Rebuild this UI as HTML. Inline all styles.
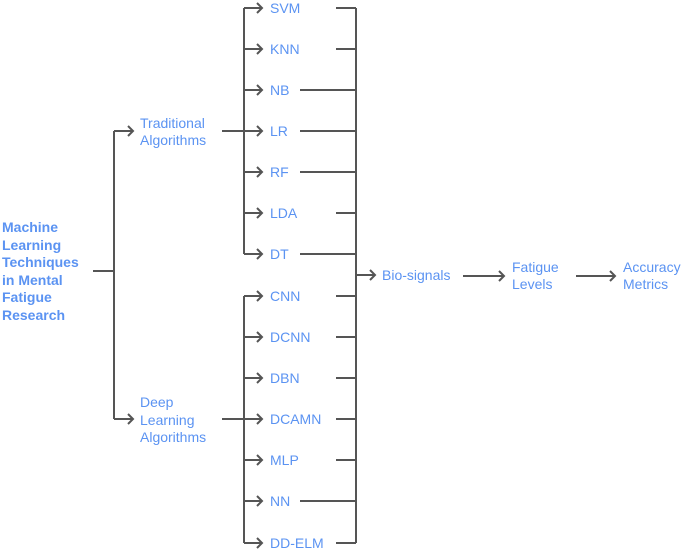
<!DOCTYPE html>
<html><head><meta charset="utf-8"><style>
html,body{margin:0;padding:0;background:#fff;}
svg text{font-family:"Liberation Sans",sans-serif;font-size:14px;fill:#5b93f2;}
</style></head><body>
<svg width="685" height="551" viewBox="0 0 685 551" xmlns="http://www.w3.org/2000/svg">
<g stroke="#555" stroke-width="2" fill="none">
<!-- root -->
<path d="M93 271H114M114 131V419M114 131H133M114 419H133"/>
<path d="M128 126L133 131L128 136M128 414L133 419L128 424"/>
<!-- trad -->
<path d="M222 131H244M244 8V254M222 419H244M244 296V543"/>
<!-- item arrows -->
<path d="M244 8H262M244 49H262M244 90H262M244 131H262M244 172H262M244 213H262M244 254H262M244 296H262M244 337H262M244 378H262M244 419H262M244 460H262M244 501H262M244 543H262"/>
<path d="M257 3L262 8L257 13M257 44L262 49L257 54M257 85L262 90L257 95M257 126L262 131L257 136M257 167L262 172L257 177M257 208L262 213L257 218M257 249L262 254L257 259M257 291L262 296L257 301M257 332L262 337L257 342M257 373L262 378L257 383M257 414L262 419L257 424M257 455L262 460L257 465M257 496L262 501L257 506M257 538L262 543L257 548"/>
<!-- right lines -->
<path d="M336 8H356M336 49H356M300 90H356M300 131H356M300 172H356M336 213H356M300 254H356M336 296H356M336 337H356M336 378H356M336 419H356M336 460H356M300 501H356M336 543H356"/>
<path d="M356 8V543M356 275H375M370 270L375 275L370 280"/>
<path d="M463 276H504M499 271L504 276L499 281M576 276H615M610 271L615 276L610 281"/>
</g>
<text x="2" y="232" font-weight="bold">Machine</text>
<text x="2" y="250" font-weight="bold">Learning</text>
<text x="2" y="267" font-weight="bold">Techniques</text>
<text x="2" y="285" font-weight="bold">in Mental</text>
<text x="2" y="302" font-weight="bold">Fatigue</text>
<text x="2" y="320" font-weight="bold">Research</text>
<text x="140" y="128">Traditional</text>
<text x="140" y="145">Algorithms</text>
<text x="140" y="407">Deep</text>
<text x="140" y="425">Learning</text>
<text x="140" y="442">Algorithms</text>
<text x="270" y="13">SVM</text>
<text x="270" y="54">KNN</text>
<text x="270" y="95">NB</text>
<text x="270" y="136">LR</text>
<text x="270" y="177">RF</text>
<text x="270" y="218">LDA</text>
<text x="270" y="259">DT</text>
<text x="270" y="301">CNN</text>
<text x="270" y="342">DCNN</text>
<text x="270" y="383">DBN</text>
<text x="270" y="424">DCAMN</text>
<text x="270" y="465">MLP</text>
<text x="270" y="506">NN</text>
<text x="270" y="548">DD-ELM</text>
<text x="382" y="280">Bio-signals</text>
<text x="512" y="272">Fatigue</text>
<text x="512" y="289">Levels</text>
<text x="623" y="272">Accuracy</text>
<text x="623" y="289">Metrics</text>
</svg>
</body></html>
